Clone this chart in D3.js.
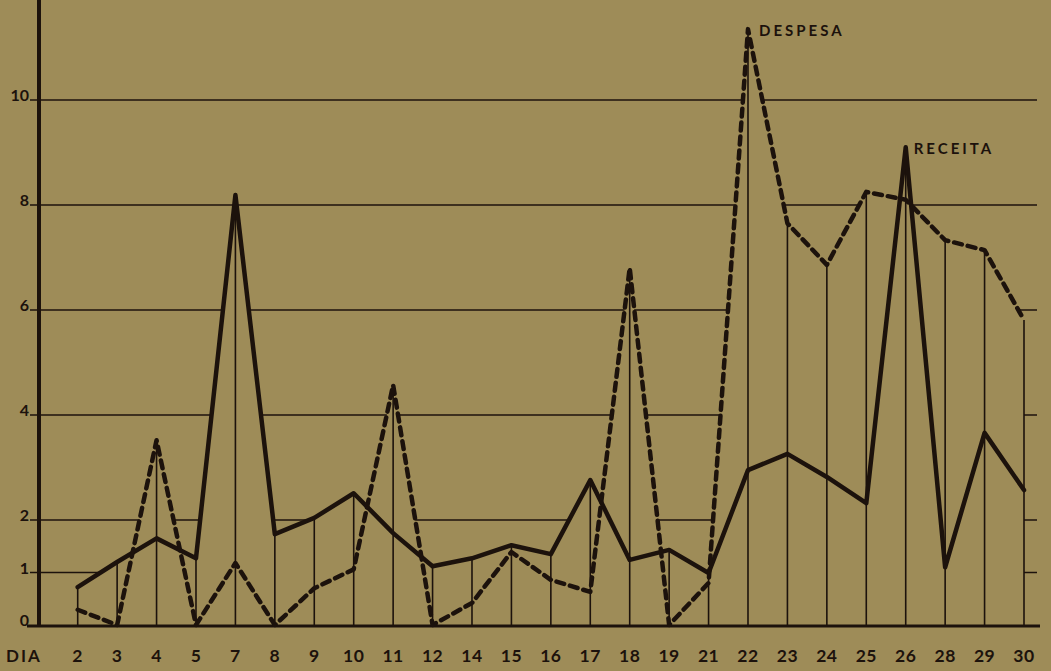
<!DOCTYPE html>
<html>
<head>
<meta charset="utf-8">
<script src="https://cdn.jsdelivr.net/npm/d3@7"></script>
<style>
  html, body { margin: 0; padding: 0; background: #9e8c58; }
  svg { display: block; }
  text { font-family: Lato, "DejaVu Sans", sans-serif; font-weight: 700; fill: #1c120c; }
</style>
</head>
<body>
<svg id="chart" width="1051" height="671"></svg>
<script>
const days = ["2","3","4","5","7","8","9","10","11","12","14","15","16","17","18","19","21","22","23","24","25","26","28","29","30"];
const receita = [0.72,1.2,1.65,1.27,8.19,1.73,2.04,2.51,1.75,1.12,1.27,1.52,1.35,2.76,1.24,1.43,0.99,2.95,3.26,2.82,2.32,9.1,1.1,3.66,2.57];
const despesa = [0.29,0,3.52,0,1.18,0,0.7,1.06,4.57,0,0.42,1.39,0.86,0.63,6.8,0,0.8,11.35,7.65,6.86,8.25,8.1,7.33,7.14,5.81];
const yTicks = [0,1,2,4,6,8,10];
const gridValues = [1,2,4,6,8,10];
const labelDespesa = "DESPESA";
const labelReceita = "RECEITA";
const labelX = "DIA";

const W = 1051, H = 671;
const bg = "#9e8c58", ink = "#1c120c";
const svg = d3.select("#chart");

const x = d3.scalePoint().domain(days).range([77.7, 1024]);
const y = d3.scaleLinear().domain([0, 10]).range([625, 100]);

svg.append("rect").attr("width", W).attr("height", H).attr("fill", bg);

// horizontal grid lines
svg.append("g").selectAll("line").data(gridValues).join("line")
  .attr("x1", 30).attr("x2", 1037)
  .attr("y1", d => y(d)).attr("y2", d => y(d))
  .attr("stroke", ink).attr("stroke-width", 1.6);

// envelope of max(receita, despesa) hides the grid beneath the curves
const env = [];
for (let i = 0; i < days.length; i++) {
  const x0 = x(days[i]);
  env.push([x0, Math.max(receita[i], despesa[i])]);
  if (i < days.length - 1) {
    const d0 = receita[i] - despesa[i], d1 = receita[i+1] - despesa[i+1];
    if (d0 * d1 < 0) {
      const t = d0 / (d0 - d1);
      const xc = x0 + t * (x(days[i+1]) - x0);
      const vc = receita[i] + t * (receita[i+1] - receita[i]);
      env.push([xc, vc]);
    }
  }
}
svg.append("path")
  .datum(env)
  .attr("d", d3.area().x(d => d[0]).y0(y(0)).y1(d => y(d[1])))
  .attr("fill", bg).attr("stroke", "none");

// vertical drop lines
svg.append("g").selectAll("line").data(days).join("line")
  .attr("x1", d => x(d)).attr("x2", d => x(d))
  .attr("y1", y(0))
  .attr("y2", (d, i) => y(Math.max(receita[i], despesa[i])))
  .attr("stroke", ink).attr("stroke-width", 1.6);

// baseline and left axis
svg.append("line").attr("x1", 27).attr("x2", 1040).attr("y1", y(0) + 1).attr("y2", y(0) + 1)
  .attr("stroke", ink).attr("stroke-width", 3);
svg.append("line").attr("x1", 39).attr("x2", 39).attr("y1", 0).attr("y2", y(0) + 2)
  .attr("stroke", ink).attr("stroke-width", 4);

// series
const line = d3.line().x((d, i) => x(days[i])).y(d => y(d));
svg.append("path").datum(receita).attr("d", line)
  .attr("fill", "none").attr("stroke", ink).attr("stroke-width", 4.5)
  .attr("stroke-linejoin", "round").attr("stroke-linecap", "round");
svg.append("path").datum(despesa).attr("d", line)
  .attr("fill", "none").attr("stroke", ink).attr("stroke-width", 4.5)
  .attr("stroke-dasharray", "8,6").attr("stroke-linecap", "round")
  .attr("stroke-linejoin", "round");

// y labels
svg.append("g").selectAll("text").data(yTicks).join("text")
  .attr("x", 29).attr("y", d => y(d) + 1)
  .attr("text-anchor", "end").attr("font-size", 16)
  .text(d => d);

// x labels
svg.append("g").selectAll("text").data(days).join("text")
  .attr("x", d => x(d)).attr("y", 662)
  .attr("text-anchor", "middle").attr("font-size", 17.5)
  .attr("letter-spacing", 0.5)
  .text(d => d);
svg.append("text").attr("x", 6).attr("y", 662).attr("font-size", 17)
  .attr("letter-spacing", 2).text(labelX);

// series labels
svg.append("text").attr("x", x("22") + 11).attr("y", 36).attr("font-size", 15)
  .attr("letter-spacing", 3).text(labelDespesa);
svg.append("text").attr("x", x("26") + 8).attr("y", 154).attr("font-size", 15)
  .attr("letter-spacing", 3).text(labelReceita);
</script>
</body>
</html>
